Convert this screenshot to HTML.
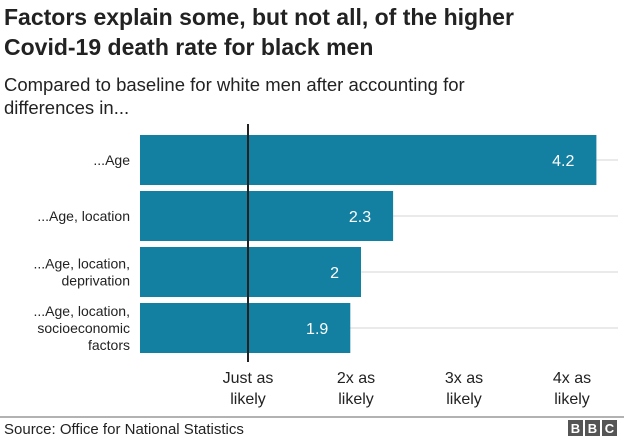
<!DOCTYPE html>
<html><head><meta charset="utf-8"><style>
body{margin:0;background:#fff;font-family:"Liberation Sans",Arial,sans-serif}
svg text{font-family:"Liberation Sans",Arial,sans-serif}
</style></head><body>
<svg id="c" width="624" height="438" xmlns="http://www.w3.org/2000/svg">
<text x="4" y="25" font-size="23" font-weight="bold" fill="#222">Factors explain some, but not all, of the higher</text>
<text x="4" y="55" font-size="23" font-weight="bold" fill="#222">Covid-19 death rate for black men</text>
<text x="4" y="91" font-size="18.5" fill="#222">Compared to baseline for white men after accounting for</text>
<text x="4" y="114" font-size="18.5" fill="#222">differences in...</text>
<g id="plot"></g>
<line x1="0" y1="417" x2="624" y2="417" stroke="#999" stroke-width="1.5"/>
<text x="4" y="434" font-size="15" fill="#222">Source: Office for National Statistics</text>
<g>
<rect x="568" y="420" width="15" height="16" fill="#555"/><rect x="585" y="420" width="15" height="16" fill="#555"/><rect x="602" y="420" width="15" height="16" fill="#555"/>
<text x="575.5" y="433" font-size="13" font-weight="bold" fill="#fff" text-anchor="middle">B</text>
<text x="592.5" y="433" font-size="13" font-weight="bold" fill="#fff" text-anchor="middle">B</text>
<text x="609.5" y="433" font-size="13" font-weight="bold" fill="#fff" text-anchor="middle">C</text>
</g>
</svg>
<script>
const categories=[["...Age"],["...Age, location"],["...Age, location,","deprivation"],["...Age, location,","socioeconomic","factors"]];
const values=[4.2,2.3,2,1.9];
const ticks=[1,2,3,4];
const tickLabels=[["Just as","likely"],["2x as","likely"],["3x as","likely"],["4x as","likely"]];
const NS="http://www.w3.org/2000/svg";
const g=document.getElementById('plot');
const x=v=>140+v*108;
const xb=v=>147+v*107;
const y=i=>135+i*56;
const bh=50;
function mk(t,a){const e=document.createElementNS(NS,t);for(const k in a)e.setAttribute(k,a[k]);g.appendChild(e);return e;}
categories.forEach((c,i)=>{
 const gl=mk('line',{x1:140,x2:618,y1:y(i)+bh/2,y2:y(i)+bh/2,stroke:'#d6d6d6','stroke-width':1});
 
 
});
values.forEach((v,i)=>{
 const r=mk('rect',{x:140,y:y(i),width:xb(v)-140,height:bh,fill:'#1380a1'});
 
 
 const t=mk('text',{x:xb(v)-22,y:y(i)+bh/2+6,'font-size':16,fill:'#fff','text-anchor':'end'});
 t.textContent=String(v);
 
 
 const lines=categories[i];
 lines.forEach((l,j)=>{
  const lt=mk('text',{x:130,y:y(i)+bh/2+5+(j-(lines.length-1)/2)*17,'font-size':14,fill:'#222','text-anchor':'end'});
  lt.textContent=l;
  
  
 });
});
const base=mk('line',{x1:x(1),x2:x(1),y1:124,y2:362,stroke:'#222','stroke-width':2});


ticks.forEach((tk,i)=>{
 tickLabels[i].forEach((l,j)=>{
  const t=mk('text',{x:x(tk),y:383+j*21,'font-size':16,fill:'#222','text-anchor':'middle'});
  t.textContent=l;
  
  
 });
});
</script>
</body></html>
